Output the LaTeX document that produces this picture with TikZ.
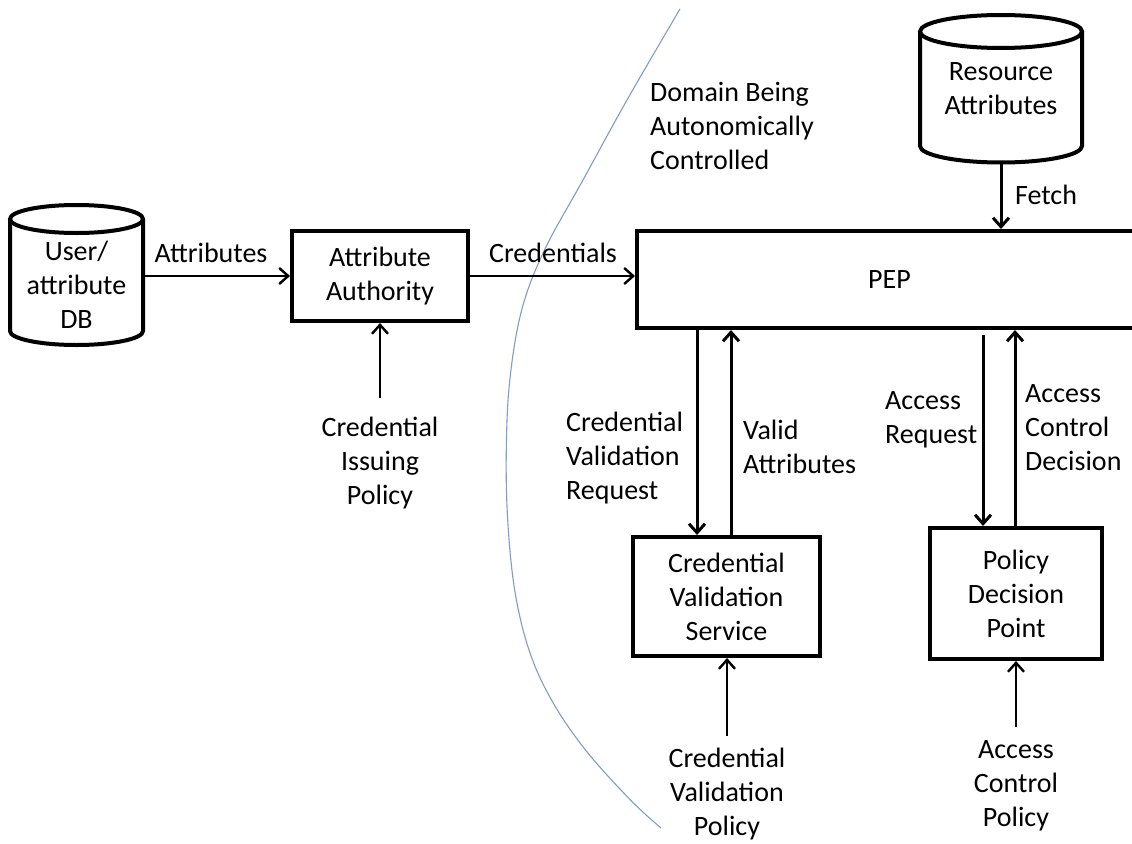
\documentclass[tikz,border=0pt]{standalone}
\usepackage{fontspec}
\setmainfont{Carlito}
\usetikzlibrary{arrows.meta,calc}
\definecolor{arcblue}{RGB}{125,158,198}
\tikzset{
  box/.style={draw, line width=4pt, align=center, inner sep=0pt},
  lbl/.style={align=center, inner sep=0pt},
  lbll/.style={align=left, inner sep=0pt, anchor=west},
  arr/.style={line width=3pt, -{Straight Barb[length=9pt,width=16pt,line width=3pt]}},
  arrthin/.style={line width=2.4pt, -{Straight Barb[length=9pt,width=16pt,line width=2.4pt]}},
  cyl/.style={line width=4pt},
  domarc/.style={draw=arcblue, line width=1.1pt}
}
\begin{document}
\begin{tikzpicture}[x=1pt,y=1pt,font=\fontsize{28}{34}\selectfont]
\useasboundingbox[fill=white] (0,0) rectangle (1132,-843);

% domain boundary arc
\draw[domarc] plot[smooth, tension=0.6] coordinates {(680,-9) (627,-100) (583,-180) (544.5,-250) (521.7,-310) (509.8,-380) (506.3,-450) (507.7,-520) (514.7,-590) (529,-650) (551.5,-700) (585.5,-750) (630.5,-800) (661,-828)};

% User/attribute DB cylinder
\draw[cyl] (76.5,-219) ellipse [x radius=66.5, y radius=14];
\draw[cyl] (10,-219) -- (10,-331) arc[start angle=180, end angle=360, x radius=66.5, y radius=14] -- (143,-219);
\node[lbl, minimum width=133pt] (udb) at (76.5,-285) {User/\\attribute\\DB};

% Resource Attributes cylinder
\draw[cyl] (1001,-31.5) ellipse [x radius=81, y radius=16.5];
\draw[cyl] (920,-31.5) -- (920,-146) arc[start angle=180, end angle=360, x radius=81, y radius=16.5] -- (1082,-31.5);
\node[lbl, minimum width=162pt] (ra) at (1001,-89) {Resource\\Attributes};
\coordinate (rabot) at (1001,-163);

% boxes
\node[box, minimum width=176pt, minimum height=90pt] (aa) at (380,-276) {Attribute\\Authority};
\node[box, minimum width=505pt, minimum height=97pt] (pep) at (889.5,-279.5) {PEP};
\node[box, minimum width=187pt, minimum height=119pt] (cvs) at (726.5,-596.5) {Credential\\Validation\\Service};
\node[box, minimum width=172pt, minimum height=131pt] (pdp) at (1016,-593.5) {Policy\\Decision\\Point};

% free text
\node[lbll] (dom) at (650,-126) {Domain Being\\Autonomically\\Controlled};
\node[lbl] (cip) at (380,-463) {Credential\\Issuing\\Policy};
\node[lbl] (cvp) at (727,-794) {Credential\\Validation\\Policy};
\node[lbl] (acp) at (1016,-786) {Access\\Control\\Policy};

% connector labels
\node[lbl] (lattr) at (211,-253) {Attributes};
\node[lbl] (lcred) at (553,-253) {Credentials};
\node[lbll] (lfetch) at (1015,-195) {Fetch};
\node[lbll] (lcvr) at (566,-458) {Credential\\Validation\\Request};
\node[lbll] (lva) at (743,-447) {Valid\\Attributes};
\node[lbll] (lar) at (885,-420) {Access\\Request};
\node[lbll] (lacd) at (1025,-428) {Access\\Control\\Decision};

% x positions of vertical connectors
\coordinate (xcvr) at (697,0);
\coordinate (xva) at (731,0);
\coordinate (xar) at (983,0);
\coordinate (xacd) at (1015,0);
\coordinate (arstart) at (983,-335);
\coordinate (cipstart) at (380,-398);
\coordinate (cvpstart) at (727,-736);
\coordinate (acpstart) at (1016,-727);

% connectors
\draw[arrthin] (udb.east |- aa.west) -- (aa.west);
\draw[arrthin] (aa.east) -- (pep.west |- aa.east);
\draw[arr] (rabot) -- (pep.north -| rabot);
\draw[arr] (pep.south -| xcvr) -- (cvs.north -| xcvr);
\draw[arr] (cvs.north -| xva) -- (pep.south -| xva);
\draw[arr] (arstart) -- (pdp.north -| xar);
\draw[arr] (pdp.north -| xacd) -- (pep.south -| xacd);
\draw[arrthin] (cipstart) -- (aa.south -| cipstart);
\draw[arrthin] (cvpstart) -- (cvs.south -| cvpstart);
\draw[arrthin] (acpstart) -- (pdp.south -| acpstart);
\end{tikzpicture}
\end{document}
